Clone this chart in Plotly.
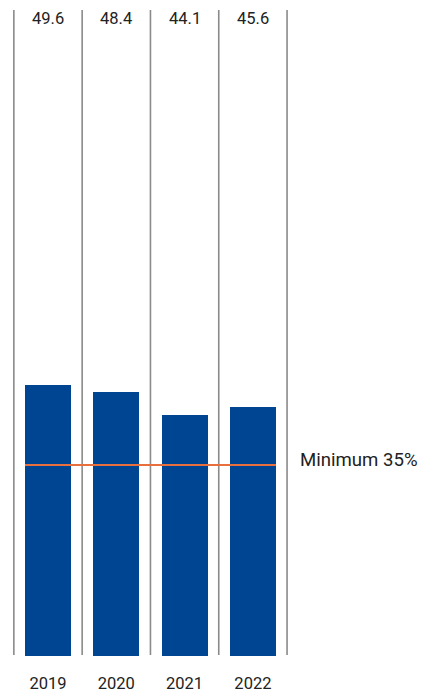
import plotly.graph_objects as go

years = ["2019", "2020", "2021", "2022"]
values = [49.6, 48.4, 44.1, 45.6]
minimum = 35
minimum_label = "Minimum 35%"

BLUE = "#004592"
ORANGE = "#E86F3E"
GREY = "#8a8a8a"
TEXT = "#222222"
FONT = "Roboto"

W, H = 424, 697
px_per_unit = 5.46
baseline_px = 656
bar_width = 0.675
x_px_per_unit = 68.3
x_first_px = 48

xs = list(range(len(years)))
y_top = baseline_px / px_per_unit
x0 = -x_first_px / x_px_per_unit
x1 = x0 + W / x_px_per_unit

fig = go.Figure()
fig.add_trace(go.Bar(
    x=xs, y=values, width=bar_width, marker=dict(color=BLUE, line=dict(width=0)),
    textposition="none", hoverinfo="skip",
))

shapes = []
for i in range(len(years) + 1):
    xv = i - 0.5
    shapes.append(dict(type="line", xref="x", yref="y", x0=xv, x1=xv,
                       y0=0.2, y1=(baseline_px - 10) / px_per_unit,
                       line=dict(color=GREY, width=1.6)))
shapes.append(dict(type="line", xref="x", yref="y",
                   x0=-bar_width / 2, x1=xs[-1] + bar_width / 2,
                   y0=minimum, y1=minimum, line=dict(color=ORANGE, width=2)))

annotations = []
for x, v in zip(xs, values):
    annotations.append(dict(x=x, y=(baseline_px - 18) / px_per_unit, xref="x", yref="y",
                            text=f"{v:.1f}", showarrow=False,
                            font=dict(family=FONT, size=16.5, color=TEXT)))
annotations.append(dict(x=(299 / x_px_per_unit) + x0, y=minimum, xref="x", yref="y",
                        text=minimum_label, showarrow=False, xanchor="left", yanchor="middle",
                        xshift=-1, yshift=5, font=dict(family=FONT, size=18.6, color=TEXT)))

fig.update_layout(
    width=W, height=H,
    margin=dict(l=0, r=0, t=0, b=H - baseline_px),
    paper_bgcolor="white", plot_bgcolor="white",
    showlegend=False, bargap=0,
    shapes=shapes, annotations=annotations,
    font=dict(family=FONT, size=16, color=TEXT),
    xaxis=dict(range=[x0, x1], tickvals=xs, ticktext=years, showgrid=False,
               zeroline=False, showline=False, ticks="", fixedrange=True,
               tickfont=dict(family=FONT, size=16.5, color=TEXT), ticklabelstandoff=15),
    yaxis=dict(range=[0, y_top], showgrid=False, zeroline=False, showline=False,
               showticklabels=False, ticks="", fixedrange=True),
)

fig.write_html("out.html", config={"displayModeBar": False})
